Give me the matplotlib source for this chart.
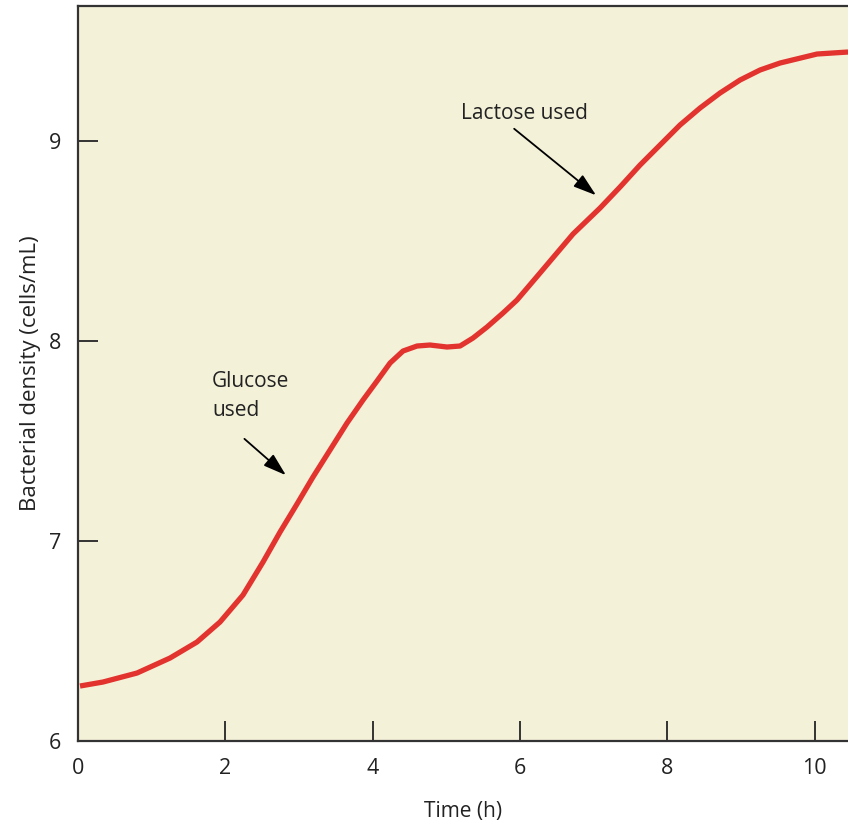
import numpy as np
import matplotlib
matplotlib.use("Agg")
import matplotlib.pyplot as plt

# 読み取った曲線の点 (時間[h], 菌密度)
time_h = [0.027, 0.339, 0.801, 1.249, 1.615, 1.927, 2.239, 2.511, 2.742, 2.972,
          3.189, 3.420, 3.651, 3.868, 4.058, 4.235, 4.411, 4.601, 4.777, 5.008,
          5.185, 5.361, 5.551, 5.768, 5.958, 6.270, 6.718, 7.085, 7.356, 7.628,
          7.899, 8.170, 8.442, 8.713, 8.985, 9.256, 9.528, 10.030, 10.451]
density = [6.275, 6.295, 6.34, 6.415, 6.495, 6.595, 6.73, 6.895, 7.045, 7.185,
           7.32, 7.455, 7.59, 7.705, 7.80, 7.89, 7.95, 7.975, 7.98, 7.97,
           7.975, 8.015, 8.07, 8.14, 8.205, 8.34, 8.535, 8.665, 8.77, 8.88,
           8.98, 9.08, 9.165, 9.24, 9.305, 9.355, 9.39, 9.435, 9.445]

x_ticks = [0, 2, 4, 6, 8, 10]
y_ticks = [6, 7, 8, 9]

plt.rcParams['font.family'] = ['Open Sans', 'DejaVu Sans']

fig = plt.figure(figsize=(8.48, 8.24), dpi=100)
ax = fig.add_axes([0.092, 0.1007, 0.908, 0.892])
ax.set_facecolor("#f4f1d9")

ax.plot(time_h, density, color="#e2332f", lw=3.8, solid_capstyle="butt",
        solid_joinstyle="round")

ax.set_xlim(0, 10.45)
ax.set_ylim(6, 9.675)
ax.set_xticks(x_ticks)
ax.set_yticks(y_ticks)
ax.tick_params(direction="in", length=14.5, width=1.4, color="#333333",
               labelsize=15.5, labelcolor="#222222")
ax.tick_params(axis="y", pad=12)
ax.tick_params(axis="x", pad=12)

ax.spines["right"].set_visible(False)
for s in ["left", "bottom", "top"]:
    ax.spines[s].set_linewidth(1.6)
    ax.spines[s].set_color("#333333")

ax.set_xlabel("Time (h)", fontsize=15, color="#222222", labelpad=16)
ax.set_ylabel("Bacterial density (cells/mL)", fontsize=16, color="#222222", labelpad=6)

# 注釈
arrow_kw = dict(arrowstyle="-|>,head_length=1.4,head_width=0.45", color="black", lw=1.3)
ax.annotate("", xy=(2.85, 7.32), xytext=(2.23, 7.52), arrowprops=arrow_kw)
ax.text(1.82, 7.85, "Glucose\nused", fontsize=15, color="#222222", va="top", ha="left",
        linespacing=1.5)

ax.annotate("", xy=(7.06, 8.72), xytext=(5.89, 9.07), arrowprops=arrow_kw)
ax.text(5.2, 9.11, "Lactose used", fontsize=15, color="#222222", va="baseline", ha="left")

fig.savefig("out.png", dpi=100)
